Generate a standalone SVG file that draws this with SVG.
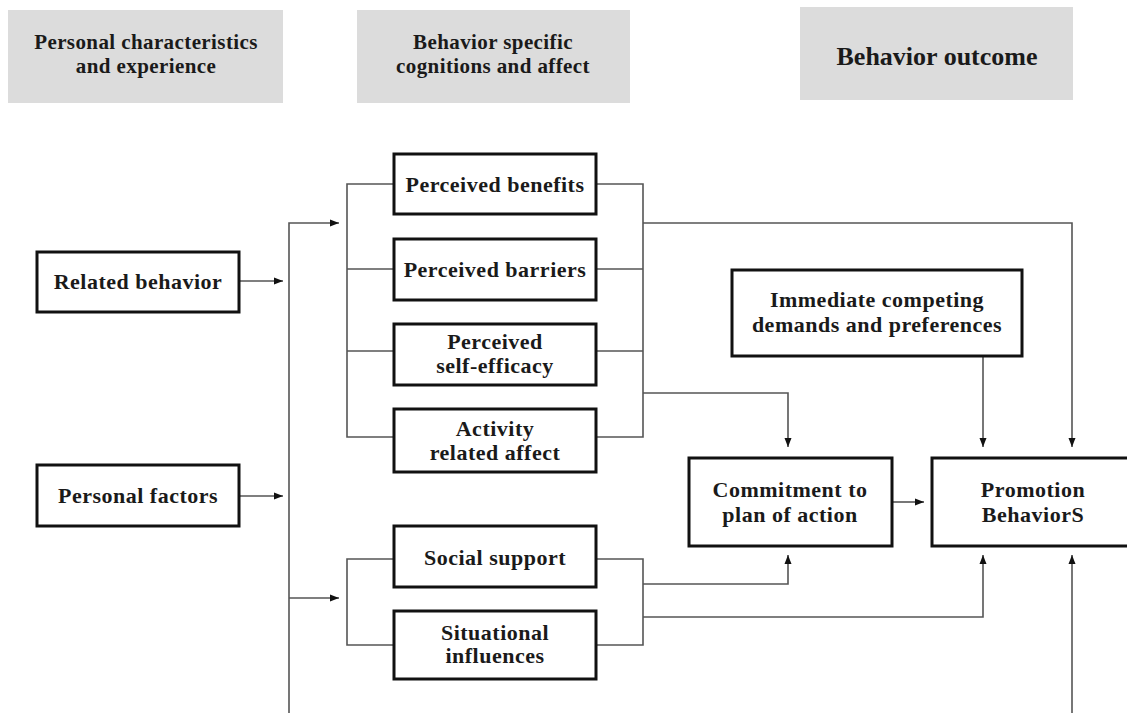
<svg xmlns="http://www.w3.org/2000/svg" width="1127" height="713" viewBox="0 0 1127 713">
<style>
.hdr{fill:#dcdcdc;stroke:none}
.node{fill:#fff;stroke:#111;stroke-width:3}
.t{font-family:"Liberation Serif","Times New Roman",serif;font-weight:bold;font-size:22px;letter-spacing:0.5px;fill:#1a1a1a;text-anchor:middle}
.th{font-family:"Liberation Serif","Times New Roman",serif;font-weight:bold;font-size:21px;letter-spacing:0.4px;fill:#1a1a1a;text-anchor:middle}
.tb{font-family:"Liberation Serif","Times New Roman",serif;font-weight:bold;font-size:26px;fill:#1a1a1a;text-anchor:middle}
.c{fill:none;stroke:#555;stroke-width:1.6}
</style>
<defs>
<marker id="ah" markerUnits="userSpaceOnUse" markerWidth="10" markerHeight="8" refX="9" refY="4" orient="auto">
<path d="M0,0.5 L9,4 L0,7.5 z" fill="#111"/>
</marker>
</defs>
<rect width="1127" height="713" fill="#fff"/>
<g id="hdr-personal">
<rect class="hdr" x="8" y="10" width="275" height="93"/>
<text class="th" x="146" y="49">Personal characteristics</text>
<text class="th" x="146" y="73">and experience</text>
</g>
<g id="hdr-cognitions">
<rect class="hdr" x="357" y="10" width="273" height="93"/>
<text class="th" x="493" y="49">Behavior specific</text>
<text class="th" x="493" y="73">cognitions and affect</text>
</g>
<g id="hdr-outcome">
<rect class="hdr" x="800" y="7" width="273" height="93"/>
<text class="tb" x="937" y="65">Behavior outcome</text>
</g>
<g id="connectors">
<path class="c" d="M240,281 H283" marker-end="url(#ah)"/>
<path class="c" d="M240,496 H283" marker-end="url(#ah)"/>
<path class="c" d="M289,713 V223 H339" marker-end="url(#ah)"/>
<path class="c" d="M289,598 H339" marker-end="url(#ah)"/>
<path class="c" d="M393,184 H347 V437 H393 M347,269 H393 M347,351 H393"/>
<path class="c" d="M597,184 H643 V437 H597 M643,269 H597 M643,351 H597"/>
<path class="c" d="M643,223 H1072 V447" marker-end="url(#ah)"/>
<path class="c" d="M643,393 H788 V447" marker-end="url(#ah)"/>
<path class="c" d="M983,357 V447" marker-end="url(#ah)"/>
<path class="c" d="M893,502 H924" marker-end="url(#ah)"/>
<path class="c" d="M393,559 H347 V645 H393"/>
<path class="c" d="M597,559 H643 V645 H597"/>
<path class="c" d="M643,584 H788 V555" marker-end="url(#ah)"/>
<path class="c" d="M643,617 H983 V555" marker-end="url(#ah)"/>
<path class="c" d="M1072,713 V555" marker-end="url(#ah)"/>
</g>
<g id="related-behavior">
<rect class="node" x="37" y="252" width="202" height="60"/>
<text class="t" x="138" y="289">Related behavior</text>
</g>
<g id="personal-factors">
<rect class="node" x="37" y="465" width="202" height="61"/>
<text class="t" x="138" y="503">Personal factors</text>
</g>
<g id="perceived-benefits">
<rect class="node" x="394" y="154" width="202" height="60"/>
<text class="t" x="495" y="192">Perceived benefits</text>
</g>
<g id="perceived-barriers">
<rect class="node" x="394" y="239" width="202" height="61"/>
<text class="t" x="495" y="277">Perceived barriers</text>
</g>
<g id="perceived-self-efficacy">
<rect class="node" x="394" y="324" width="202" height="61"/>
<text class="t" x="495" y="349">Perceived</text>
<text class="t" x="495" y="373">self-efficacy</text>
</g>
<g id="activity-related-affect">
<rect class="node" x="394" y="409" width="202" height="63"/>
<text class="t" x="495" y="436">Activity</text>
<text class="t" x="495" y="460">related affect</text>
</g>
<g id="social-support">
<rect class="node" x="394" y="526" width="202" height="61"/>
<text class="t" x="495" y="565">Social support</text>
</g>
<g id="situational-influences">
<rect class="node" x="394" y="611" width="202" height="68"/>
<text class="t" x="495" y="640">Situational</text>
<text class="t" x="495" y="663">influences</text>
</g>
<g id="immediate-competing">
<rect class="node" x="732" y="270" width="290" height="86"/>
<text class="t" x="877" y="307">Immediate competing</text>
<text class="t" x="877" y="332">demands and preferences</text>
</g>
<g id="commitment">
<rect class="node" x="689" y="458" width="203" height="88"/>
<text class="t" x="790" y="497">Commitment to</text>
<text class="t" x="790" y="522">plan of action</text>
</g>
<g id="promotion-behaviors">
<rect class="node" x="932" y="458" width="204" height="88"/>
<text class="t" x="1033" y="497">Promotion</text>
<text class="t" x="1033" y="522">BehaviorS</text>
</g>
</svg>
